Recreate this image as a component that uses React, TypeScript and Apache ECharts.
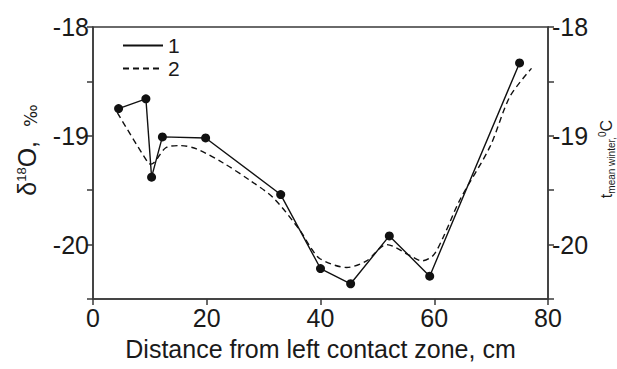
import React, { useEffect, useRef } from "react";
import * as echarts from "echarts";

// Series 1: δ18O (solid line with dots)
const distance1 = [4.5, 9.3, 10.3, 12.2, 19.8, 33.0, 40.0, 45.3, 52.1, 59.2, 75.0];
const delta1 = [-18.75, -18.66, -19.38, -19.01, -19.02, -19.54, -20.22, -20.36, -19.92, -20.29, -18.33];

// Series 2: t mean winter (dashed curve)
const distance2 = [4.3, 9.7, 10.2, 12.8, 15.3, 18.2, 22.9, 27.6, 31.7, 36.4, 38.2, 39.9, 44.6, 48.1, 51.6, 55.7, 57.8, 59.8, 61.6, 64.5, 69.8, 73.3, 77.1];
const temp2 = [-18.79, -19.25, -19.26, -19.11, -19.09, -19.12, -19.25, -19.41, -19.57, -19.87, -20.02, -20.13, -20.21, -20.15, -20.0, -20.1, -20.15, -20.1, -19.93, -19.59, -19.1, -18.64, -18.38];

const xTicks = [0, 20, 40, 60, 80];
const yTicks = [-18, -19, -20];
const legendNames = ["1", "2"];

const FONT = "Liberation Sans, Arial, sans-serif";
const AXIS_COLOR = "#3a3a3a";
const TEXT_COLOR = "#1a1a1a";

export default function App() {
  const ref = useRef<HTMLDivElement>(null);
  useEffect(() => {
    if (!ref.current) return;
    const chart = echarts.init(ref.current, undefined, { renderer: "svg" });
    const yLabel = (v: number) => (yTicks.includes(v) ? String(v) : "");
    const yAxisBase = {
      type: "value",
      min: -20.5,
      max: -18,
      interval: 0.5,
      axisLine: { show: true, lineStyle: { color: AXIS_COLOR, width: 1.5 } },
      axisTick: { show: true, length: 6, lineStyle: { color: AXIS_COLOR, width: 1.5 } },
      axisLabel: { formatter: yLabel, fontSize: 25, color: TEXT_COLOR, fontFamily: FONT, margin: 4 },
      splitLine: { show: false },
    };
    chart.setOption({
      animation: false,
      grid: {
        left: 93,
        right: 69,
        top: 27,
        bottom: 70,
        show: true,
        borderColor: AXIS_COLOR,
        borderWidth: 1.5,
        backgroundColor: "transparent",
      },
      legend: {
        data: legendNames,
        orient: "vertical",
        left: 117,
        top: 30,
        itemWidth: 40,
        itemHeight: 20,
        itemGap: 2,
        itemStyle: { color: "rgba(0,0,0,0)", borderWidth: 0, opacity: 0 },
        textStyle: { fontSize: 21, color: TEXT_COLOR, fontFamily: FONT, lineHeight: 20 },
      },
      xAxis: {
        type: "value",
        min: 0,
        max: 80,
        interval: 20,
        axisLine: { show: true, lineStyle: { color: AXIS_COLOR, width: 1.5 } },
        axisTick: { show: true, length: 6, lineStyle: { color: AXIS_COLOR, width: 1.5 } },
        axisLabel: {
          fontSize: 25,
          color: TEXT_COLOR,
          fontFamily: FONT,
          margin: 6,
          formatter: (v: number) => (xTicks.includes(v) ? String(v) : ""),
        },
        splitLine: { show: false },
        name: "Distance from left contact zone, cm",
        nameLocation: "middle",
        nameGap: 37,
        nameTextStyle: { fontSize: 25, color: TEXT_COLOR, fontFamily: FONT },
      },
      yAxis: [
        { ...yAxisBase, position: "left" },
        { ...yAxisBase, position: "right" },
      ],
      graphic: [
        {
          type: "text",
          x: 27,
          y: 150,
          rotation: Math.PI / 2,
          style: {
            text: "{a|δ}{s|18}{a|O,  }{p|‰}",
            align: "center",
            verticalAlign: "middle",
            fill: TEXT_COLOR,
            rich: {
              a: { fontSize: 25, fontFamily: FONT, fill: TEXT_COLOR, lineHeight: 25 },
              s: { fontSize: 13, fontFamily: FONT, fill: TEXT_COLOR, padding: [0, 0, 12, 0] },
              p: { fontSize: 17, fontFamily: "DejaVu Sans, sans-serif", fill: TEXT_COLOR, lineHeight: 17, verticalAlign: "bottom" },
            },
          },
        },
        {
          type: "text",
          x: 606,
          y: 159,
          rotation: Math.PI / 2,
          style: {
            text: "{t|t}{sub|mean winter,}{sup|0}{t|C}",
            align: "center",
            verticalAlign: "middle",
            fill: TEXT_COLOR,
            rich: {
              t: { fontSize: 16, fontFamily: FONT, fill: TEXT_COLOR, lineHeight: 16 },
              sub: { fontSize: 10, fontFamily: FONT, fill: TEXT_COLOR, lineHeight: 10, padding: [10, 0, 0, 0] },
              sup: { fontSize: 10, fontFamily: FONT, fill: TEXT_COLOR, lineHeight: 10, padding: [0, 0, 8, 0] },
            },
          },
        },
      ],
      series: [
        {
          name: "1",
          type: "line",
          yAxisIndex: 0,
          data: distance1.map((d, i) => [d, delta1[i]]),
          symbol: "none",
          lineStyle: { color: "#111", width: 1.4, type: "solid" },
          itemStyle: { color: "#111" },
          z: 3,
        },
        {
          name: "pts",
          type: "scatter",
          yAxisIndex: 0,
          data: distance1.map((d, i) => [d, delta1[i]]),
          symbol: "circle",
          symbolSize: 9,
          itemStyle: { color: "#111", opacity: 1 },
          z: 4,
        },
        {
          name: "2",
          type: "line",
          yAxisIndex: 1,
          data: distance2.map((d, i) => [d, temp2[i]]),
          symbol: "none",
          smooth: 0.3,
          lineStyle: { color: "#111", width: 1.4, type: [6, 4] },
          itemStyle: { color: "#111" },
          z: 2,
        },
      ],
    });
    return () => chart.dispose();
  }, []);
  return (
    <div
      ref={ref}
      style={{ position: "fixed", left: 0, top: 0, width: 617, height: 369, background: "#fff" }}
    />
  );
}
